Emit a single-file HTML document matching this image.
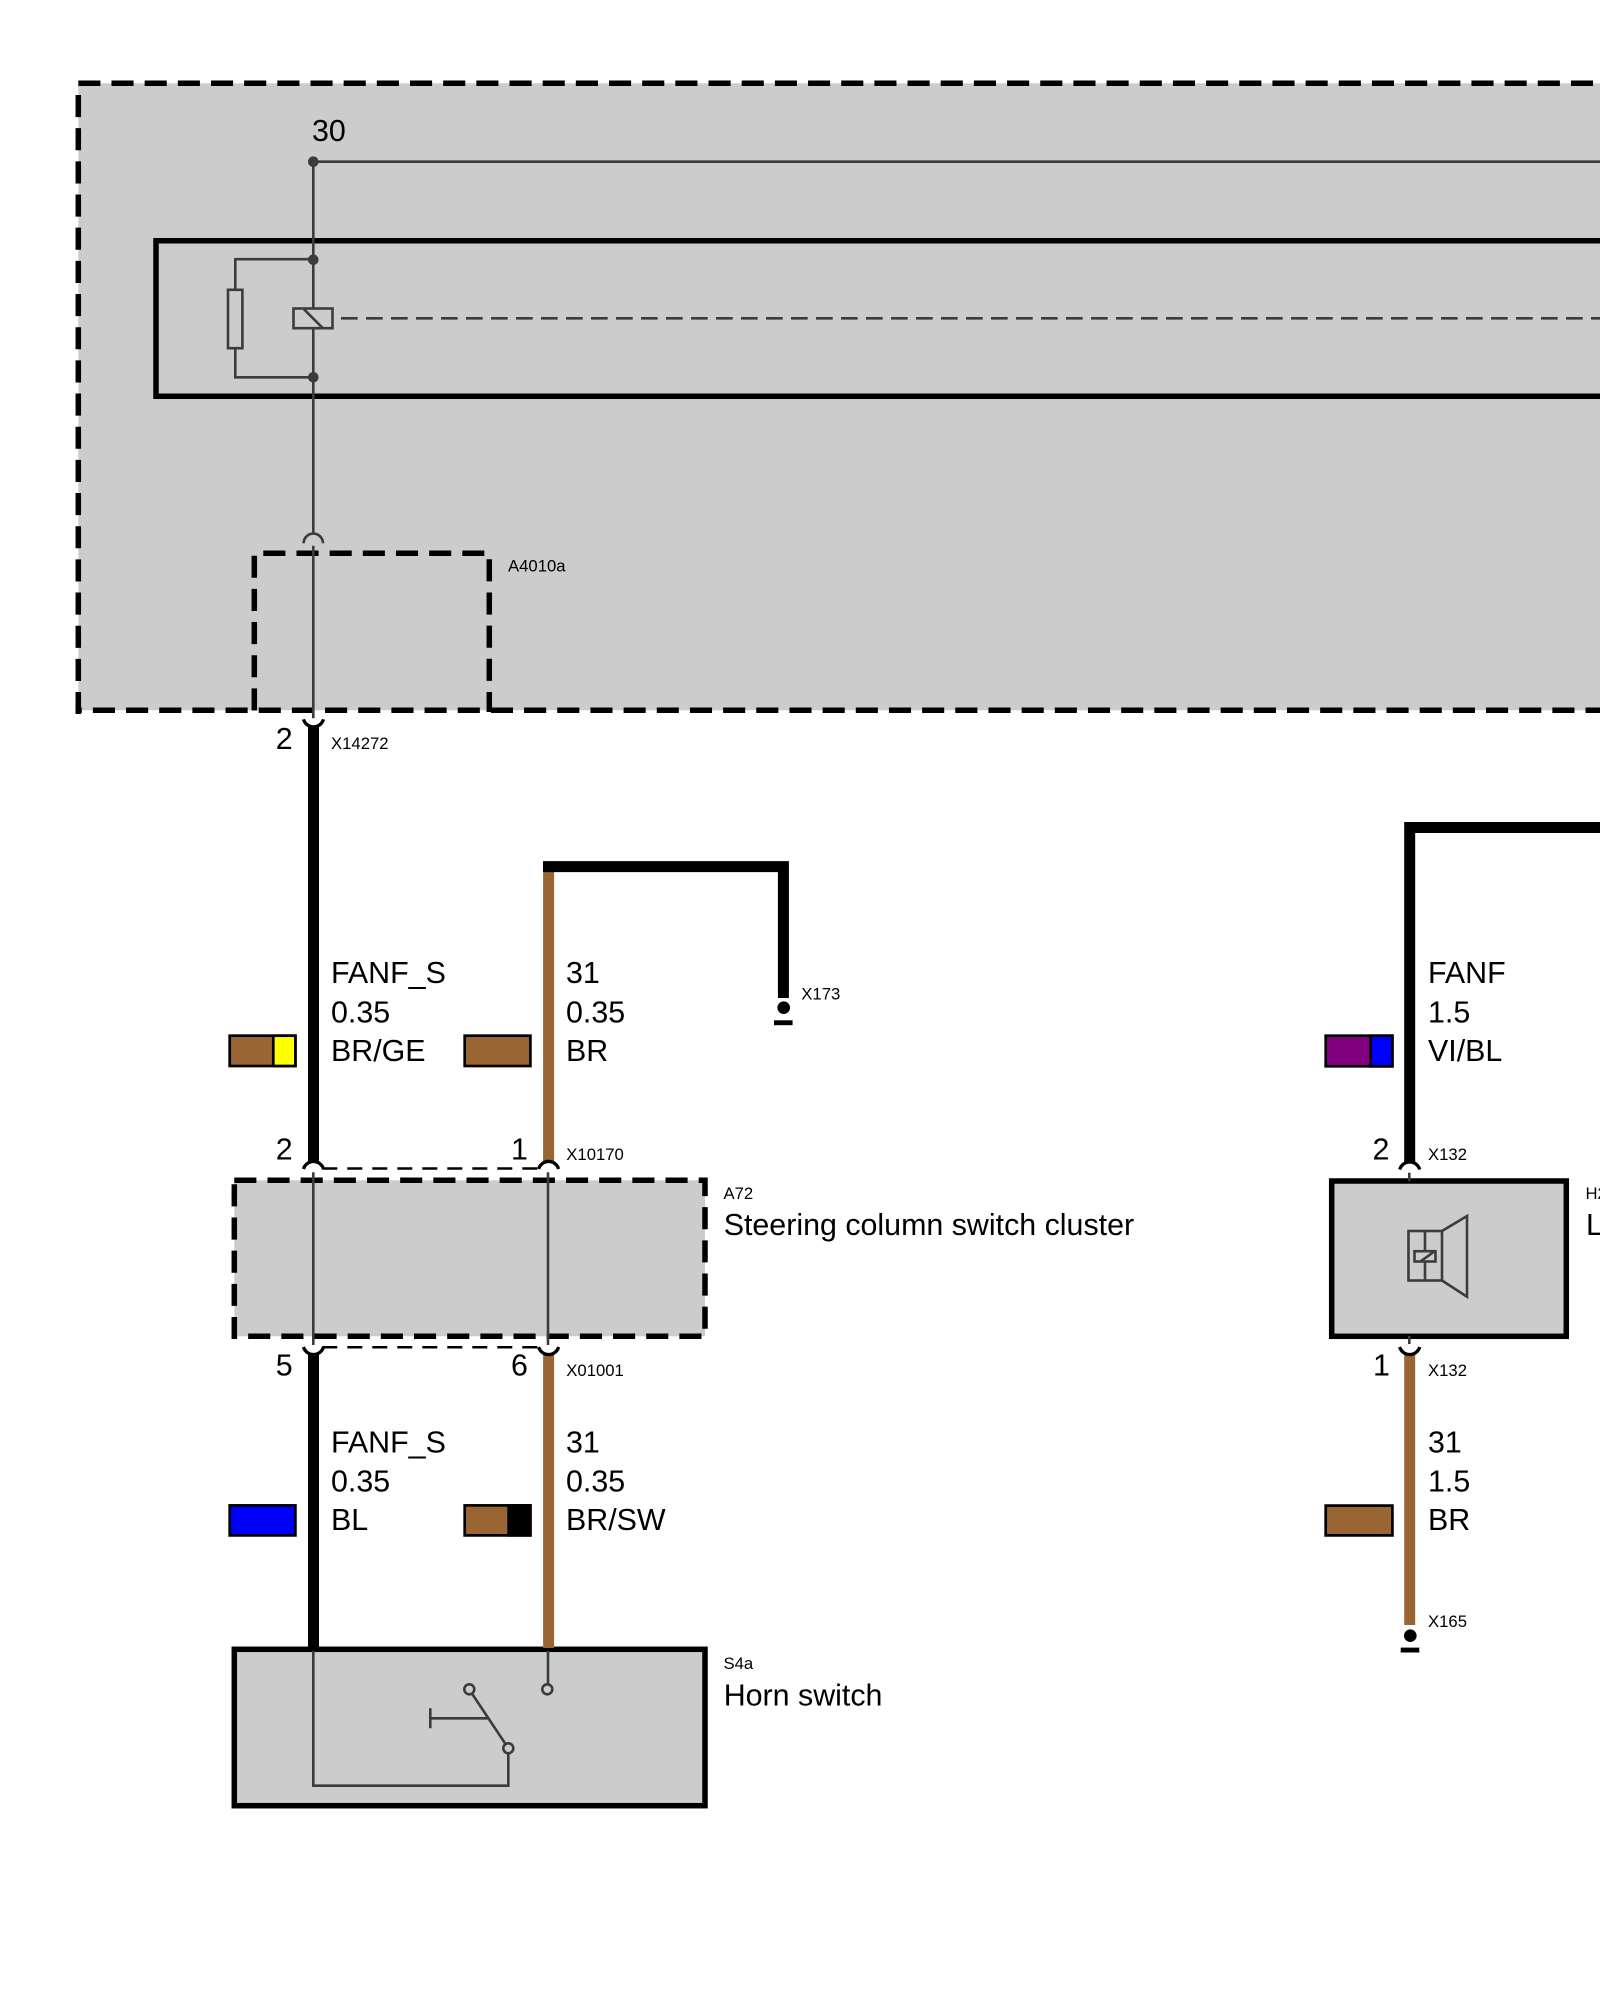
<!DOCTYPE html>
<html>
<head>
<meta charset="utf-8">
<style>
html,body{margin:0;padding:0;background:#fff;width:1600px;height:2000px;overflow:hidden}
svg{display:block}
text{font-family:"Liberation Sans",sans-serif;fill:#000}
.t{font-size:30.4px}
.s{font-size:16.7px}
.w{stroke:#3c3c3c;stroke-width:2.6;fill:none}
.d{stroke:#000;stroke-width:5.5;fill:none;stroke-dasharray:22.1 11.07}
.b{stroke:#000;stroke-width:11;fill:none}
.br{stroke:#996633;stroke-width:11;fill:none}
.a{stroke:#000;stroke-width:3.3;fill:none}
.c{stroke:#000;stroke-width:2.5;fill:none;stroke-dasharray:15 10}
.sw{stroke:#000;stroke-width:2.7}
</style>
</head>
<body>
<svg width="1600" height="2000" viewBox="0 0 1600 2000" xmlns="http://www.w3.org/2000/svg">
<defs><clipPath id="cl"><rect x="75.6" y="0" width="1530" height="2000"/></clipPath></defs>
<rect width="1600" height="2000" fill="#fff"/>

<!-- Outer dashed box -->
<rect x="78.3" y="83.3" width="1530" height="627" fill="#cccccc"/>
<line class="d" x1="78.3" y1="83.3" x2="1600" y2="83.3" stroke-linecap="butt"/>
<line class="d" x1="78.3" y1="95" x2="78.3" y2="714"/>
<g clip-path="url(#cl)"><line class="d" x1="59.7" y1="710.3" x2="1600" y2="710.3"/></g>

<!-- Relay box -->
<path d="M1606 240.7H156V396.3H1606" fill="none" stroke="#000" stroke-width="5.5"/>

<!-- A4010a dashed -->
<line class="d" x1="263.3" y1="553.3" x2="484.3" y2="553.3"/>
<line class="d" x1="254.3" y1="555.7" x2="254.3" y2="712"/>
<line class="d" x1="489.3" y1="559.3" x2="489.3" y2="712"/>

<!-- Thin wires top -->
<path class="w" d="M313.3 161.7H1600"/>
<path class="w" d="M313.3 161.7V308.5M313.3 328.5V534"/>
<path class="w" d="M313.3 545.7V718.3"/>
<path class="w" d="M303.6 543.3A9.7 9.7 0 0 1 323 543.3"/>
<circle cx="313.3" cy="161.7" r="5.3" fill="#3c3c3c"/>
<circle cx="313.3" cy="259.7" r="5.3" fill="#3c3c3c"/>
<circle cx="313.3" cy="377.3" r="5.3" fill="#3c3c3c"/>
<path class="w" d="M313.3 259.2H235.3V289.8M235.3 348.2V377.3H313.3"/>
<rect class="w" x="228" y="289.8" width="14.4" height="58.4"/>
<rect class="w" x="293.5" y="308.5" width="39" height="19.7"/>
<path class="w" d="M304 309.3L322.7 328"/>
<line class="w" x1="341" y1="318.3" x2="1600" y2="318.3" stroke-dasharray="16.7 8.3"/>

<!-- Steering box -->
<rect x="234.3" y="1180.3" width="470.7" height="156" fill="#cccccc"/>
<rect class="d" x="234.3" y="1180.3" width="470.7" height="156"/>

<!-- Horn switch box -->
<rect x="234.3" y="1649.3" width="470.7" height="156.4" fill="#cccccc" stroke="#000" stroke-width="5.5"/>

<!-- Speaker box -->
<rect x="1331.7" y="1181" width="234.6" height="155.3" fill="#cccccc" stroke="#000" stroke-width="5.5"/>

<!-- Thick wires -->
<line class="b" x1="313.5" y1="727" x2="313.5" y2="1162"/>
<line class="br" x1="548.6" y1="870" x2="548.6" y2="1162"/>
<path class="b" d="M543 866.6H783.4V998"/>
<line class="b" x1="313.5" y1="1354" x2="313.5" y2="1648"/>
<line class="br" x1="548.6" y1="1354" x2="548.6" y2="1648"/>
<path class="b" d="M1600 827.5H1409.7V1162"/>
<line class="br" x1="1409.7" y1="1355" x2="1409.7" y2="1625"/>

<!-- Ground terminals -->
<circle cx="783.7" cy="1007.7" r="6.3" fill="#000"/>
<rect x="774" y="1020.3" width="18.6" height="4.9" fill="#000"/>
<circle cx="1410.3" cy="1635.7" r="6.3" fill="#000"/>
<rect x="1400.7" y="1647.6" width="18.6" height="4.9" fill="#000"/>

<!-- Connector arcs -->
<path class="a" d="M303.5 719.3A10.4 10.4 0 0 0 323.5 719.3"/>
<path class="a" d="M303.5 1169A10.4 10.4 0 0 1 323.5 1169"/>
<path class="a" d="M538.6 1169A10.4 10.4 0 0 1 558.6 1169"/>
<path class="a" d="M1399.7 1169.5A10.4 10.4 0 0 1 1419.7 1169.5"/>
<path class="a" d="M303.5 1347A10.4 10.4 0 0 0 323.5 1347"/>
<path class="a" d="M538.6 1347A10.4 10.4 0 0 0 558.6 1347"/>
<path class="a" d="M1399.7 1347A10.4 10.4 0 0 0 1419.7 1347"/>

<!-- Connector dashed -->
<line class="c" x1="322.3" y1="1168.5" x2="539" y2="1168.5"/>
<line class="c" x1="322.3" y1="1347.3" x2="539" y2="1347.3"/>

<!-- Thin wires in boxes -->
<line class="w" x1="313.3" y1="1172.3" x2="313.3" y2="1345"/>
<line class="w" x1="548" y1="1172.3" x2="548" y2="1345"/>
<line class="w" x1="1409.3" y1="1172.7" x2="1409.3" y2="1181"/>
<line class="w" x1="1409.3" y1="1336" x2="1409.3" y2="1344"/>

<!-- Horn switch internals -->
<path class="w" d="M313.3 1650.7V1785.7H508.3V1753.4"/>
<circle class="w" cx="508.3" cy="1748.3" r="5"/>
<circle class="w" cx="469.3" cy="1689.3" r="5"/>
<circle class="w" cx="547.3" cy="1689.3" r="5"/>
<line class="w" x1="548" y1="1650.7" x2="548" y2="1684.3"/>
<line class="w" x1="472" y1="1693.6" x2="505.5" y2="1744"/>
<path class="w" d="M430.3 1718.3H489.3M430.3 1708.3V1728.3"/>

<!-- Speaker symbol -->
<rect class="w" x="1408.5" y="1231" width="33.5" height="49.5"/>
<path class="w" d="M1425 1231V1251.2M1425 1261.5V1280.5"/>
<rect class="w" x="1414.5" y="1251.2" width="21" height="10.3"/>
<path class="w" d="M1420.7 1261.3L1435 1251"/>
<path class="w" d="M1442 1231L1467 1216V1296.7L1442 1280.5"/>

<!-- Swatches -->
<rect class="sw" x="229.7" y="1035.7" width="65.7" height="30.3" fill="#996633"/>
<rect class="sw" x="273.3" y="1035.7" width="22.1" height="30.3" fill="#ffff00"/>
<rect class="sw" x="464.7" y="1035.7" width="65.7" height="30.3" fill="#996633"/>
<rect class="sw" x="1325.7" y="1035.7" width="66.7" height="30.6" fill="#800080"/>
<rect class="sw" x="1370.7" y="1035.7" width="21.7" height="30.6" fill="#0000ff"/>
<rect class="sw" x="229.7" y="1505.4" width="65.7" height="30" fill="#0000ff"/>
<rect class="sw" x="464.7" y="1505.4" width="65.7" height="30" fill="#996633"/>
<rect x="507.3" y="1504" width="24.4" height="32.7" fill="#000"/>
<rect class="sw" x="1325.7" y="1505.6" width="66.7" height="29.8" fill="#996633"/>

<!-- Text -->
<text class="t" x="312" y="141">30</text>
<text class="s" x="508" y="571.7">A4010a</text>
<text class="t" x="275.7" y="749">2</text>
<text class="s" x="331" y="749">X14272</text>

<text class="t" x="331" y="982.8">FANF_S</text>
<text class="t" x="331" y="1022.3">0.35</text>
<text class="t" x="331" y="1060.9">BR/GE</text>
<text class="t" x="566" y="982.8">31</text>
<text class="t" x="566" y="1022.3">0.35</text>
<text class="t" x="566" y="1060.9">BR</text>
<text class="s" x="801.3" y="999.4">X173</text>

<text class="t" x="275.7" y="1159.6">2</text>
<text class="t" x="511" y="1159.6">1</text>
<text class="s" x="566.3" y="1160">X10170</text>
<text class="s" x="723.5" y="1199">A72</text>
<text class="t" x="723.7" y="1235">Steering column switch cluster</text>

<text class="t" x="275.7" y="1375.5">5</text>
<text class="t" x="511" y="1375.5">6</text>
<text class="s" x="566.3" y="1376">X01001</text>

<text class="t" x="331" y="1452.3">FANF_S</text>
<text class="t" x="331" y="1491.7">0.35</text>
<text class="t" x="331" y="1530">BL</text>
<text class="t" x="566" y="1452.3">31</text>
<text class="t" x="566" y="1491.7">0.35</text>
<text class="t" x="566" y="1530">BR/SW</text>

<text class="s" x="723.5" y="1669">S4a</text>
<text class="t" x="723.7" y="1705.6">Horn switch</text>

<text class="t" x="1428" y="982.8">FANF</text>
<text class="t" x="1428" y="1022.3">1.5</text>
<text class="t" x="1428" y="1060.9">VI/BL</text>
<text class="t" x="1372.5" y="1159.6">2</text>
<text class="s" x="1428" y="1160">X132</text>
<text class="s" x="1585.5" y="1199">H2</text>
<text class="t" x="1586" y="1235">Loudspeaker</text>
<text class="t" x="1373" y="1375.5">1</text>
<text class="s" x="1428" y="1376">X132</text>
<text class="t" x="1428" y="1452.3">31</text>
<text class="t" x="1428" y="1491.7">1.5</text>
<text class="t" x="1428" y="1530">BR</text>
<text class="s" x="1428" y="1627">X165</text>
</svg>
</body>
</html>
